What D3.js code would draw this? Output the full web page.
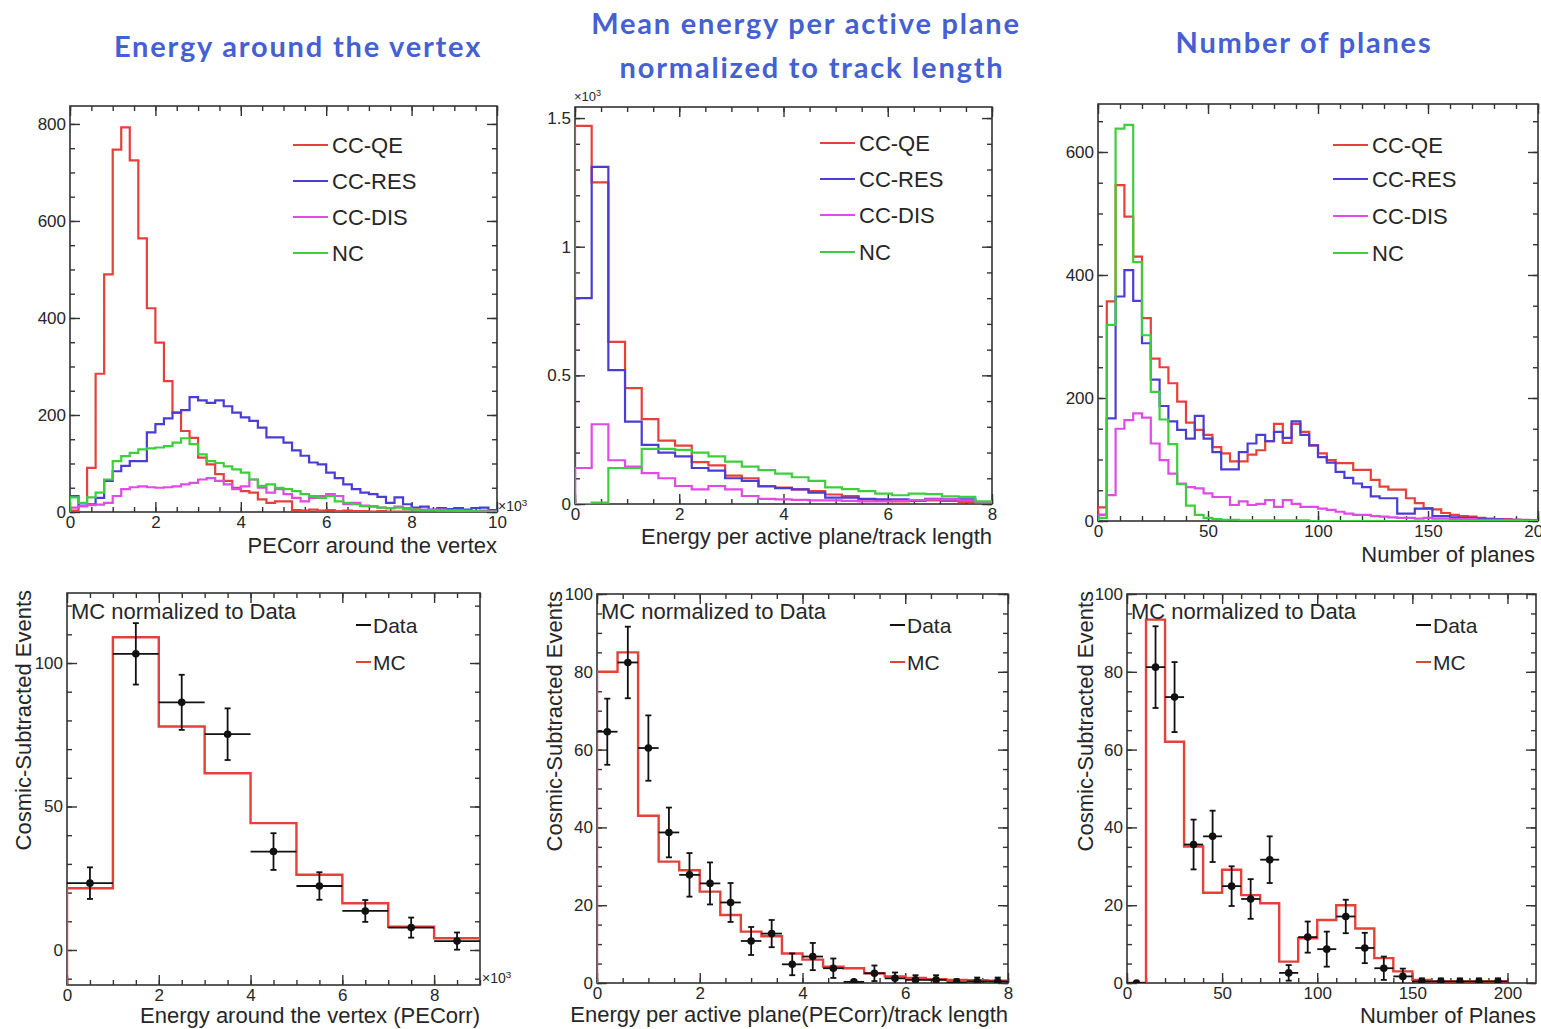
<!DOCTYPE html>
<html>
<head>
<meta charset="utf-8">
<script src="https://cdnjs.cloudflare.com/ajax/libs/d3/7.8.5/d3.min.js"></script>
<style>
  body { margin: 0; background: #fff; }
  svg text { font-family: "Liberation Sans", Arial, sans-serif; fill: #262626; }
  svg text.title { font-family: Lato, "Open Sans", sans-serif; font-weight: bold; fill: #4460d2; letter-spacing: 1.8px; }
</style>
</head>
<body>
<svg id="chart" width="1541" height="1029"></svg>
<script>
// ---- top row: MC samples, 4 channels ----
var channels = ["CC-QE", "CC-RES", "CC-DIS", "NC"];

// energy around the vertex, 50 bins 0..10 (x10^3 PECorr)
var vertexQE  = [3, 12, 91, 285, 490, 747, 793, 725, 564, 420, 349, 270, 205, 167, 153, 112, 98, 78, 64, 50, 43, 40, 26, 19, 22, 22, 4, 3, 5, 3, 4, 2, 3, 2, 2, 1, 2, 1, 1, 1, 1, 1, 0, 1, 0, 0, 0, 0, 0, 0];
var vertexRES = [33, 13, 16, 29, 64, 84, 95, 105, 105, 164, 181, 193, 205, 210, 237, 230, 225, 230, 218, 205, 195, 188, 174, 154, 154, 143, 127, 116, 102, 98, 81, 70, 57, 47, 40, 37, 31, 19, 30, 16, 9, 11, 5, 8, 6, 8, 5, 8, 9, 4];
var vertexDIS = [9, 12, 14, 15, 19, 33, 47, 51, 53, 51, 50, 51, 53, 57, 60, 67, 70, 64, 57, 47, 53, 67, 50, 40, 47, 37, 29, 22, 29, 33, 37, 33, 16, 19, 13, 11, 9, 8, 11, 8, 6, 5, 4, 5, 3, 4, 3, 2, 3, 2];
var vertexNC  = [30, 19, 30, 40, 67, 105, 115, 122, 129, 131, 133, 136, 143, 152, 140, 119, 105, 101, 94, 88, 81, 67, 54, 57, 50, 47, 43, 37, 33, 29, 33, 22, 19, 16, 12, 12, 9, 8, 9, 6, 5, 4, 4, 3, 3, 2, 2, 2, 1, 1];

// energy per active plane / track length, 25 bins 0..8 (x10^3 events)
var planeEQE  = [1.47, 1.25, 0.63, 0.45, 0.33, 0.246, 0.227, 0.163, 0.15, 0.11, 0.1, 0.07, 0.064, 0.057, 0.05, 0.037, 0.031, 0.018, 0.012, 0.01, 0.012, 0.014, 0.012, 0.008, 0.006];
var planeERES = [0.8, 1.31, 0.52, 0.32, 0.23, 0.2, 0.185, 0.14, 0.13, 0.1, 0.09, 0.068, 0.062, 0.057, 0.044, 0.025, 0.025, 0.02, 0.018, 0.018, 0.014, 0.02, 0.018, 0.018, 0.005];
var planeEDIS = [0.14, 0.31, 0.17, 0.145, 0.12, 0.1, 0.07, 0.057, 0.07, 0.057, 0.031, 0.02, 0.018, 0.016, 0.014, 0.014, 0.012, 0.01, 0.01, 0.012, 0.015, 0.018, 0.018, 0.014, 0.006];
var planeENC  = [0, 0.005, 0.14, 0.14, 0.214, 0.214, 0.21, 0.2, 0.185, 0.165, 0.145, 0.132, 0.118, 0.104, 0.09, 0.065, 0.058, 0.05, 0.04, 0.034, 0.04, 0.038, 0.03, 0.028, 0.01];

// number of planes, 50 bins 0..200
var nPlanesQE  = [22, 357, 546, 495, 430, 330, 264, 250, 224, 194, 160, 148, 140, 120, 110, 97, 97, 108, 115, 130, 158, 127, 158, 145, 123, 110, 99, 94, 94, 83, 83, 67, 56, 51, 51, 37, 29, 21, 19, 13, 10, 8, 7, 5, 4, 3, 3, 2, 2, 1];
var nPlanesRES = [10, 167, 365, 408, 358, 289, 230, 187, 162, 148, 134, 171, 134, 112, 84, 84, 112, 126, 140, 130, 145, 135, 162, 140, 123, 104, 95, 80, 70, 61, 55, 40, 37, 37, 12, 12, 20, 20, 8, 8, 6, 5, 5, 4, 3, 3, 2, 2, 1, 1];
var nPlanesDIS = [10, 42, 150, 164, 175, 168, 126, 99, 77, 61, 55, 53, 45, 39, 39, 26, 32, 26, 28, 34, 23, 34, 28, 23, 23, 20, 18, 15, 12, 10, 10, 8, 7, 6, 5, 5, 4, 5, 4, 4, 3, 3, 3, 2, 2, 2, 2, 2, 1, 1];
var nPlanesNC  = [5, 319, 638, 644, 421, 302, 210, 165, 125, 60, 25, 10, 5, 3, 2, 2, 1, 1, 1, 1, 1, 1, 1, 1, 0, 0, 0, 0, 0, 0, 0, 0, 0, 0, 0, 0, 0, 0, 0, 0, 0, 0, 0, 0, 0, 0, 0, 0, 0, 0];

// ---- bottom row: data vs MC ----
var vertexMC   = [21.5, 109, 77.9, 61.6, 44.2, 26.2, 16.3, 8.1, 4.1];
var vertexData = [23.3, 103.2, 86.3, 75.2, 34.3, 22.3, 13.6, 7.8, 3.1];
var vertexErr  = [5.5, 10.7, 9.6, 9, 6.4, 4.8, 3.8, 3.5, 3];

var planeMC   = [80, 85, 43, 31.2, 29, 23.5, 17.5, 13.2, 12, 7.6, 6, 4.2, 3.8, 2.5, 1.7, 1.3, 1, 0.8, 0.7, 0.6];
var planeData = [64.6, 82.4, 60.4, 38.7, 27.8, 25.6, 20.7, 10.8, 12.7, 4.8, 6.8, 3.8, 0.3, 2.5, 1.2, 0.8, 0.8, 0.2, 0.4, 0.4];
var planeErr  = [8.5, 9.2, 8.4, 6.4, 5.6, 5.4, 5, 3.6, 3.5, 2.8, 3.5, 2.5, 0.5, 2, 1.5, 1.2, 1.2, 0.8, 1, 1];

var nplMC   = [0, 93.4, 62, 35.1, 23.2, 29.1, 22.6, 20.5, 5.5, 11.5, 16.2, 20, 14, 6.4, 3, 0.8, 0.4, 0.4, 0.4, 0.4];
var nplData = [0, 81.2, 73.5, 35.6, 37.7, 24.9, 21.6, 31.7, 2.6, 11.8, 8.7, 17.1, 9, 3.8, 1.7, 0.4, 0.4, 0.4, 0.4, 0.4];
var nplErr  = [0, 10.5, 9, 6.4, 6.6, 5.1, 5.1, 6, 2, 4, 4.5, 4.3, 3.9, 3, 2, 0.8, 0.8, 0.8, 0.8, 0.8];

var colors = { "CC-QE": "#e5403a", "CC-RES": "#4a3dd6", "CC-DIS": "#e04ae6", "NC": "#3ccf3c", "Data": "#111", "MC": "#e5403a" };

var svg = d3.select("#chart");
var fmt = d3.format("~g");

function ticks(step, d) {
  return d3.range(Math.ceil(d[0] / step - 1e-9) * step, d[1] + 1e-9, step).map(function(v) { return +v.toFixed(6); });
}

function makePanel(o) {
  var x = d3.scaleLinear().domain(o.xd).range([o.left, o.right]);
  var y = d3.scaleLinear().domain(o.yd).range([o.bottom, o.top]);
  var g = svg.append("g");
  svg.append("clipPath").attr("id", "clip" + o.id)
    .append("rect").attr("x", o.left).attr("y", o.top)
    .attr("width", o.right - o.left).attr("height", o.bottom - o.top);

  var xMaj = ticks(o.xs[0], o.xd), xMin = ticks(o.xs[1], o.xd);
  var yMaj = ticks(o.ys[0], o.yd), yMin = ticks(o.ys[1], o.yd);

  function style(sel) {
    sel.select(".domain").remove();
    sel.attr("color", "#333").attr("font-family", null).attr("font-size", 17);
    sel.selectAll("line").attr("stroke-width", 1.4);
  }
  var ax = g.append("g").attr("class", "axes");
  ax.append("g").attr("transform", "translate(0," + o.bottom + ")")
    .call(d3.axisBottom(x).tickValues(xMaj).tickSizeInner(-10).tickSizeOuter(0).tickPadding(4).tickFormat(fmt)).call(style);
  ax.append("g").attr("transform", "translate(0," + o.bottom + ")")
    .call(d3.axisBottom(x).tickValues(xMin).tickSize(-5).tickFormat("")).call(style);
  ax.append("g").attr("transform", "translate(0," + o.top + ")")
    .call(d3.axisTop(x).tickValues(xMaj).tickSize(-10).tickFormat("")).call(style);
  ax.append("g").attr("transform", "translate(0," + o.top + ")")
    .call(d3.axisTop(x).tickValues(xMin).tickSize(-5).tickFormat("")).call(style);
  ax.append("g").attr("transform", "translate(" + o.left + ",0)")
    .call(d3.axisLeft(y).tickValues(yMaj).tickSizeInner(-10).tickSizeOuter(0).tickPadding(4).tickFormat(fmt)).call(style);
  ax.append("g").attr("transform", "translate(" + o.left + ",0)")
    .call(d3.axisLeft(y).tickValues(yMin).tickSize(-5).tickFormat("")).call(style);
  ax.append("g").attr("transform", "translate(" + o.right + ",0)")
    .call(d3.axisRight(y).tickValues(yMaj).tickSize(-10).tickFormat("")).call(style);
  ax.append("g").attr("transform", "translate(" + o.right + ",0)")
    .call(d3.axisRight(y).tickValues(yMin).tickSize(-5).tickFormat("")).call(style);

  g.append("rect").attr("x", o.left).attr("y", o.top)
    .attr("width", o.right - o.left).attr("height", o.bottom - o.top)
    .attr("fill", "none").attr("stroke", "#333").attr("stroke-width", 1.6);

  // x axis title, right aligned like ROOT
  g.append("text").attr("x", o.titleX || o.right).attr("y", o.bottom + o.titleDy)
    .attr("text-anchor", "end").attr("font-size", 22).text(o.xTitle);
  if (o.yTitle) {
    g.append("text").attr("transform", "translate(" + o.yTitleX + "," + (o.top - 3) + ") rotate(-90)")
      .attr("text-anchor", "end").attr("font-size", 22).text(o.yTitle);
  }
  var plot = g.append("g").attr("clip-path", "url(#clip" + o.id + ")");
  return { x: x, y: y, g: g, plot: plot, o: o };
}

function drawHist(p, vals, color, width) {
  var lo = p.o.xd[0], w = (p.o.xd[1] - lo) / vals.length;
  if (p.o.binW) w = p.o.binW;
  var pts = [[lo, p.o.yd[0]]];
  vals.forEach(function(v, i) { pts.push([lo + i * w, v]); pts.push([lo + (i + 1) * w, v]); });
  p.plot.append("path")
    .attr("d", d3.line().x(function(d) { return p.x(d[0]); }).y(function(d) { return p.y(d[1]); })(pts))
    .attr("fill", "none").attr("stroke", color).attr("stroke-width", width || 2.2)
    .attr("stroke-linejoin", "miter");
}

function drawData(p, vals, errs, w) {
  var gd = p.plot.append("g").attr("stroke", "#111").attr("stroke-width", 1.8);
  vals.forEach(function(v, i) {
    var c = p.o.xd[0] + (i + 0.5) * w;
    var cx = p.x(c), cy = p.y(v);
    gd.append("line").attr("x1", p.x(c - w / 2)).attr("x2", p.x(c + w / 2)).attr("y1", cy).attr("y2", cy);
    if (errs[i] > 0) {
      var yt = p.y(v + errs[i]), yb = p.y(v - errs[i]);
      gd.append("line").attr("x1", cx).attr("x2", cx).attr("y1", yt).attr("y2", yb);
      gd.append("line").attr("x1", cx - 3).attr("x2", cx + 3).attr("y1", yt).attr("y2", yt);
      gd.append("line").attr("x1", cx - 3).attr("x2", cx + 3).attr("y1", yb).attr("y2", yb);
    }
    gd.append("circle").attr("cx", cx).attr("cy", cy).attr("r", 3.8).attr("fill", "#111").attr("stroke", "none");
  });
}

function legend4(x0, ys) {
  channels.forEach(function(c, i) {
    svg.append("line").attr("x1", x0).attr("x2", x0 + 35).attr("y1", ys[i]).attr("y2", ys[i])
      .attr("stroke", colors[c]).attr("stroke-width", 2.2);
    svg.append("text").attr("x", x0 + 39).attr("y", ys[i]).attr("dy", "0.36em")
      .attr("font-size", 22).text(c);
  });
}

function legend2(p, x0) {
  ["Data", "MC"].forEach(function(c, i) {
    var yy = 625 + i * 37;
    svg.append("line").attr("x1", x0).attr("x2", x0 + 15).attr("y1", yy).attr("y2", yy)
      .attr("stroke", colors[c]).attr("stroke-width", 2);
    svg.append("text").attr("x", x0 + 17).attr("y", yy).attr("dy", "0.36em")
      .attr("font-size", 21).text(c);
  });
  svg.append("text").attr("x", p.o.left + 4).attr("y", 611).attr("dy", "0.36em")
    .attr("font-size", 22).text("MC normalized to Data");
}

function exponent(xp, yp, fs) {
  var t = svg.append("text").attr("x", xp).attr("y", yp).attr("font-size", fs);
  t.append("tspan").text("\u00d710");
  t.append("tspan").attr("dy", -5).attr("font-size", fs * 0.7).text("3");
}

// ---- titles ----
[["Energy around the vertex", 298, 57], ["Mean energy per active plane", 806, 34],
 ["normalized to track length", 812, 78], ["Number of planes", 1304, 53]].forEach(function(t) {
  svg.append("text").attr("class", "title").attr("x", t[1]).attr("y", t[2])
    .attr("text-anchor", "middle").attr("font-size", 29).text(t[0]);
});

// ---- top left ----
var p1 = makePanel({ id: 1, left: 70, right: 497, top: 106, bottom: 512, xd: [0, 10], yd: [0, 837],
  xs: [2, 0.5], ys: [200, 50], xTitle: "PECorr around the vertex", titleDy: 41 });
[vertexQE, vertexRES, vertexDIS, vertexNC].forEach(function(v, i) { drawHist(p1, v, colors[channels[i]]); });
legend4(293, [145, 181, 217, 253]);
exponent(498, 511, 14);

// ---- top middle ----
var p2 = makePanel({ id: 2, left: 575, right: 992, top: 107, bottom: 504, xd: [0, 8], yd: [0, 1.543],
  xs: [2, 0.5], ys: [0.5, 0.1], xTitle: "Energy per active plane/track length", titleDy: 40 });
[planeEQE, planeERES, planeEDIS, planeENC].forEach(function(v, i) { drawHist(p2, v, colors[channels[i]]); });
legend4(820, [143, 179, 215, 252]);
exponent(574, 101, 13);

// ---- top right ----
var p3 = makePanel({ id: 3, left: 1098, right: 1538, top: 104, bottom: 521, xd: [0, 200], yd: [0, 678],
  xs: [50, 10], ys: [200, 50], xTitle: "Number of planes", titleDy: 41, titleX: 1535 });
[nPlanesQE, nPlanesRES, nPlanesDIS, nPlanesNC].forEach(function(v, i) { drawHist(p3, v, colors[channels[i]]); });
legend4(1333, [145, 179, 216, 253]);

// ---- bottom left ----
var p4 = makePanel({ id: 4, left: 67, right: 480, top: 593, bottom: 985, xd: [0, 9], yd: [-12.2, 124.4],
  xs: [2, 0.5], ys: [50, 10], xTitle: "Energy around the vertex (PECorr)", titleDy: 38,
  yTitle: "Cosmic-Subtracted Events", yTitleX: 31 });
(function() {
  var pts = [[0, -12.2]];
  vertexMC.forEach(function(v, i) { pts.push([i, v]); pts.push([i + 1, v]); });
  p4.plot.append("path").attr("d", d3.line().x(function(d) { return p4.x(d[0]); }).y(function(d) { return p4.y(d[1]); })(pts))
    .attr("fill", "none").attr("stroke", colors.MC).attr("stroke-width", 2.4);
})();
drawData(p4, vertexData, vertexErr, 1);
legend2(p4, 356);
exponent(482, 983, 14);

// ---- bottom middle ----
var p5 = makePanel({ id: 5, left: 597, right: 1008, top: 594, bottom: 983, xd: [0, 8], yd: [0, 100],
  xs: [2, 0.5], ys: [20, 5], xTitle: "Energy per active plane(PECorr)/track length", titleDy: 39,
  yTitle: "Cosmic-Subtracted Events", yTitleX: 562 });
drawHist(p5, planeMC, colors.MC, 2.4);
drawData(p5, planeData, planeErr, 0.4);
legend2(p5, 890);

// ---- bottom right ----
var p6 = makePanel({ id: 6, left: 1127, right: 1536, top: 594, bottom: 983, xd: [0, 215], yd: [0, 100],
  xs: [50, 10], ys: [20, 5], xTitle: "Number of Planes", titleDy: 40, binW: 10,
  yTitle: "Cosmic-Subtracted Events", yTitleX: 1093 });
drawHist(p6, nplMC, colors.MC, 2.4);
drawData(p6, nplData, nplErr, 10);
legend2(p6, 1416);
</script>
</body>
</html>
